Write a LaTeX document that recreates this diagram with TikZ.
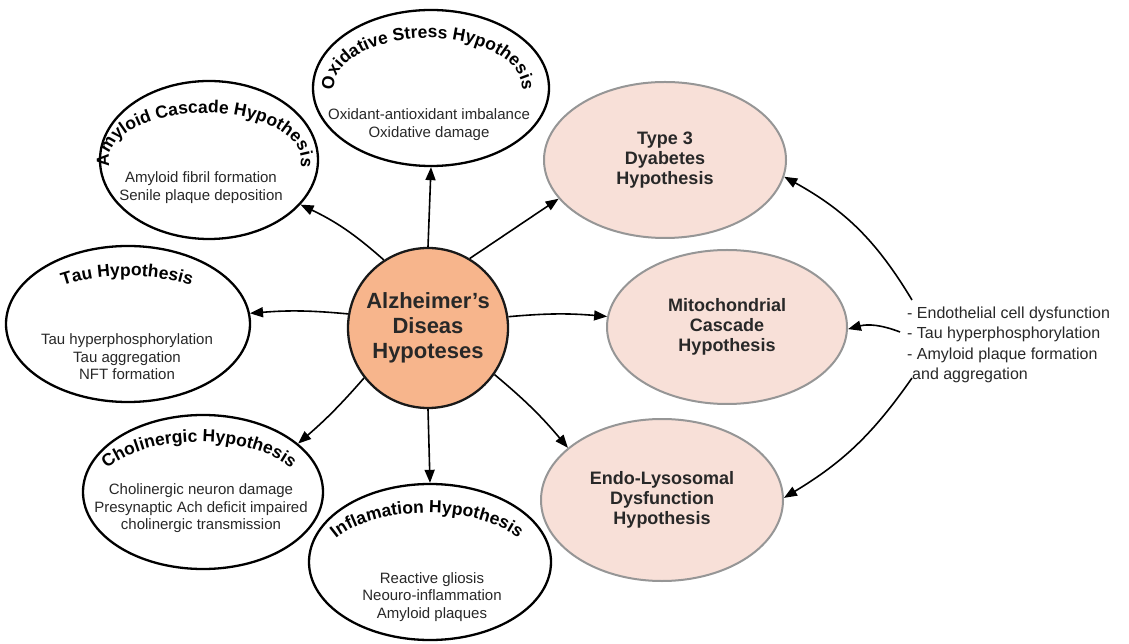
\documentclass[tikz,border=0pt]{standalone}
\usepackage{fontspec}
\setmainfont{Liberation Sans}
\usetikzlibrary{shapes.geometric,arrows.meta,decorations.text}
\definecolor{pinkfill}{RGB}{248,224,216}
\definecolor{pinkedge}{RGB}{150,150,150}
\definecolor{corefill}{RGB}{247,181,140}
\definecolor{txt}{RGB}{40,40,40}
\begin{document}
\begin{tikzpicture}[x=1pt,y=1pt,
  whiteell/.style={ellipse, draw=black, line width=2.3pt, fill=white, inner sep=0pt},
  pinkell/.style={ellipse, draw=pinkedge, line width=2pt, fill=pinkfill, inner sep=0pt,
    font=\bfseries\fontsize{18}{20}\selectfont, align=center, text=txt},
  body/.style={font=\fontsize{15}{17.5}\selectfont, align=center, text=txt, inner sep=0pt},
  arr/.style={-{Triangle[length=13pt,width=10pt]}, line width=1.6pt},
  curvedtitle/.style={decorate, decoration={text along path, text align=center,
    text={|\bfseries\fontsize{17.5}{17.5}\selectfont|#1}}}
]
\path[fill=white,use as bounding box] (0,0) rectangle (1129,643);

% white hypothesis ellipses
\node[whiteell, minimum width=236, minimum height=156] (oxid) at (431,555) {};
\node[whiteell, minimum width=218, minimum height=158] (amy) at (209,483) {};
\node[whiteell, minimum width=244, minimum height=156] (tau) at (128,319) {};
\node[whiteell, minimum width=240, minimum height=154] (chol) at (203,151) {};
\node[whiteell, minimum width=242, minimum height=156] (infl) at (430,81) {};

% curved titles
\path[curvedtitle={Oxidative Stress Hypothesis}] (428,555) ++(240:94pt and 50pt) arc[start angle=240, end angle=-60, x radius=94pt, y radius=50pt];
\path[curvedtitle={Amyloid Cascade Hypothesis}] (205,483) ++(240:96pt and 47pt) arc[start angle=240, end angle=-60, x radius=96pt, y radius=47pt];
\path[curvedtitle={Tau Hypothesis}] (127,319) ++(240:106pt and 48pt) arc[start angle=240, end angle=-60, x radius=106pt, y radius=48pt];
\path[curvedtitle={Cholinergic Hypothesis}] (199,151) ++(240:104pt and 50pt) arc[start angle=240, end angle=-60, x radius=104pt, y radius=50pt];
\path[curvedtitle={Inflamation Hypothesis}] (427,81) ++(240:104pt and 49pt) arc[start angle=240, end angle=-60, x radius=104pt, y radius=49pt];

% body texts
\node[body] (oxidb) at (429,518.5) {Oxidant-antioxidant imbalance\\Oxidative damage};
\node[body] (amyb) at (201,455.5) {Amyloid fibril formation\\Senile plaque deposition};
\node[body] (taub) at (127,286) {Tau hyperphosphorylation\\Tau aggregation\\NFT formation};
\node[body] (cholb) at (201,134.5) {Cholinergic neuron damage\\Presynaptic Ach deficit impaired\\cholinergic transmission};
\node[body] (inflb) at (432,46) {Reactive gliosis\\Neouro-inflammation\\Amyloid plaques};

% pink ellipses
\node[pinkell, minimum width=242, minimum height=156] (t3) at (665,483) {Type 3\\Dyabetes\\Hypothesis};
\node[pinkell, minimum width=240, minimum height=154] (mito) at (727,316) {Mitochondrial\\Cascade\\Hypothesis};
\node[pinkell, minimum width=242, minimum height=162] (endo) at (662,143) {Endo-Lysosomal\\Dysfunction\\Hypothesis};

% central node
\node[circle, draw=black!90, line width=2.3pt, fill=corefill, minimum size=160, inner sep=0pt,
  font=\bfseries\fontsize{22}{25}\selectfont, align=center, text=txt] (c) at (428,315)
  {Alzheimer’s\\Diseas\\Hypoteses};

% right text
\node[anchor=west, font=\fontsize{16}{20.5}\selectfont, align=left, text=txt, inner sep=0pt] (causes) at (907,298)
  {- Endothelial cell dysfunction\\- Tau hyperphosphorylation\\- Amyloid plaque formation\\\hspace*{5pt}and aggregation};
\coordinate (s1) at (912,343);
\coordinate (s2) at (900,311);
\coordinate (s3) at (912,265);

% arrows from centre
\draw[arr] (c.north) -- (oxid.south);
\draw[arr] (c.123) to[bend right=8] (amy.-26);
\draw[arr] (c.170) to[bend right=5] (tau.5);
\draw[arr] (c.218) to[bend left=4] (chol.27);
\draw[arr] (c.south) -- (infl.north);
\draw[arr] (c.59) -- (t3.200);
\draw[arr] (c.8) to[bend left=5] (mito.175);
\draw[arr] (c.-35) to[bend left=5] (endo.151);

% arrows from causes
\draw[arr] (s1) to[bend right=15] (t3.-8.5);
\draw[arr] (s2) to[bend right=18] (mito.-1.5);
\draw[arr] (s3) to[bend left=12] (endo.1.5);
\end{tikzpicture}
\end{document}
